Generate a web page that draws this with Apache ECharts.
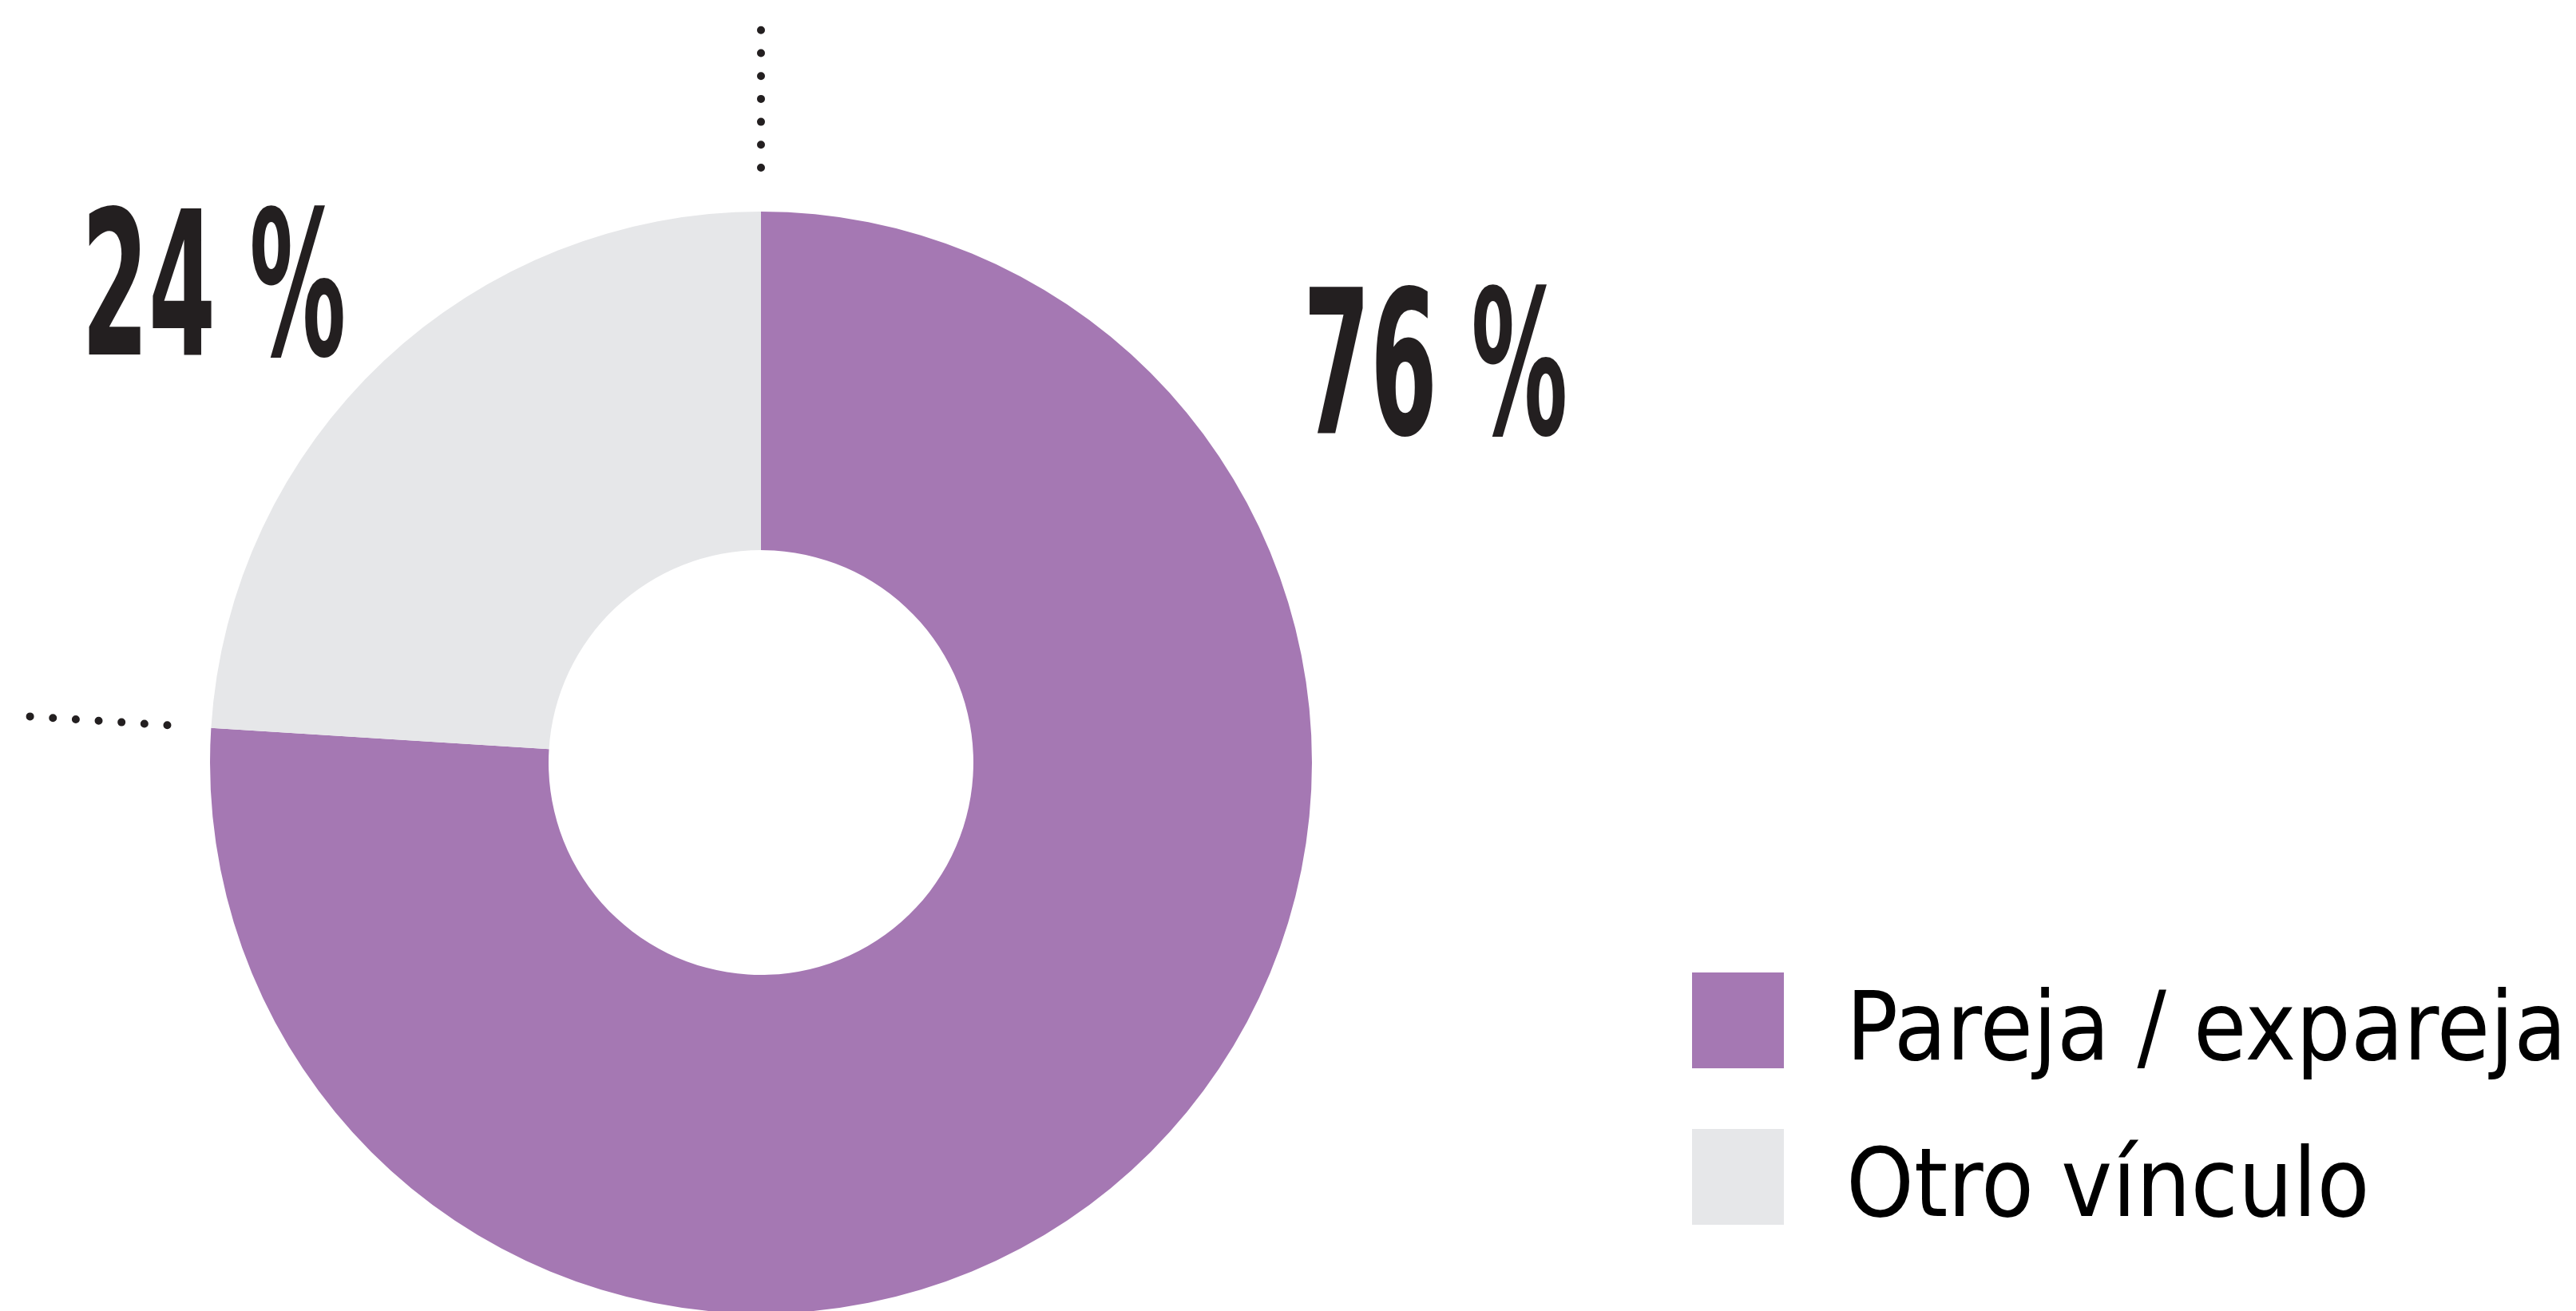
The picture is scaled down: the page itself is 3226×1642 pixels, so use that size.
<!DOCTYPE html>
<html>
<head>
<meta charset="utf-8">
<script src="https://cdn.jsdelivr.net/npm/echarts@6/dist/echarts.min.js"></script>
<style>
  html, body { margin: 0; padding: 0; background: #fff; }
  #main { width: 3226px; height: 1642px; }
</style>
</head>
<body>
<div id="main"></div>
<script>
var categories = ['Pareja / expareja', 'Otro vínculo'];
var values = [76, 24];
var colors = ['#a578b3', '#e6e7e9'];

var chart = echarts.init(document.getElementById('main'));

var cx = 953, cy = 955;
var rIn = 266, rOut = 690;
var condensed = '"DejaVu Sans Condensed", "Liberation Sans", sans-serif';

// angles of slice boundaries (start at top, clockwise)
var total = values.reduce(function (a, b) { return a + b; }, 0);
var boundaries = [90];
var acc = 0;
for (var i = 0; i < values.length - 1; i++) {
  acc += values[i];
  boundaries.push(90 - 360 * acc / total);
}

var dots = boundaries.map(function (deg) {
  var a = deg * Math.PI / 180;
  var r0 = 745, r1 = 745 + 6 * 28.7 + 0.2;
  return {
    type: 'line',
    shape: {
      x1: cx + r0 * Math.cos(a), y1: cy - r0 * Math.sin(a),
      x2: cx + r1 * Math.cos(a), y2: cy - r1 * Math.sin(a)
    },
    style: { stroke: '#231f20', lineWidth: 10, lineCap: 'round', lineDash: [0, 28.7] }
  };
});

// big percentage labels
var labelPos = [[1632, 478], [102, 379]];
var bigLabels = values.map(function (v, i) {
  return {
    type: 'text',
    x: labelPos[i][0],
    y: labelPos[i][1],
    scaleX: 0.535,
    style: {
      text: v + ' %',
      x: 0, y: 0,
      font: 'bold 251px ' + condensed,
      fill: '#231f20',
      verticalAlign: 'middle',
      align: 'left'
    }
  };
});

var option = {
  backgroundColor: '#fff',
  animation: false,
  legend: {
    orient: 'vertical',
    left: 2114,
    top: 1213,
    icon: 'rect',
    itemWidth: 115,
    itemHeight: 120,
    itemGap: 58,
    data: categories,
    formatter: '{n|{name}}',
    textStyle: {
      padding: [36, 0, 0, 73],
      rich: {
        n: { fontFamily: condensed, fontSize: 120, color: '#000' }
      }
    }
  },
  series: [{
    type: 'pie',
    center: [cx, cy],
    radius: [rIn, rOut],
    startAngle: 90,
    clockwise: true,
    silent: true,
    label: { show: false },
    labelLine: { show: false },
    data: categories.map(function (c, i) {
      return { name: c, value: values[i], itemStyle: { color: colors[i] } };
    })
  }],
  graphic: dots.concat(bigLabels)
};

chart.setOption(option);
</script>
</body>
</html>
